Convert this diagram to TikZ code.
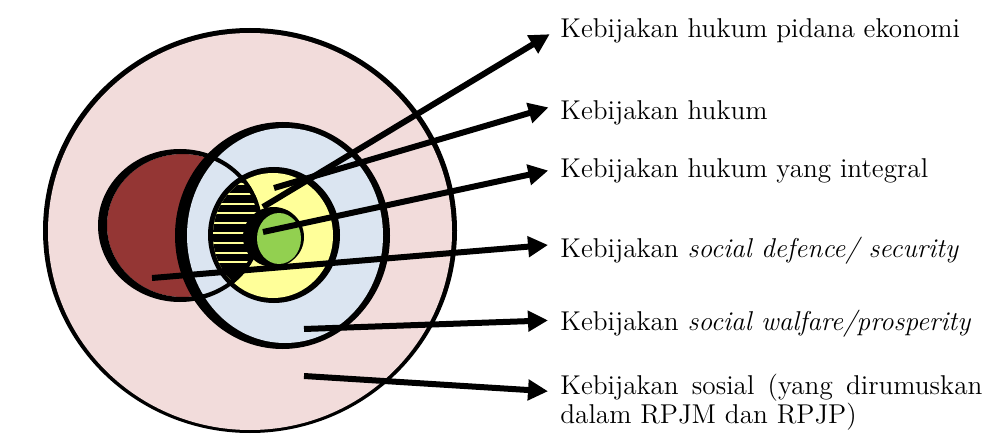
\documentclass[tikz,border=0pt]{standalone}
\usepackage{xcolor}
\usetikzlibrary{arrows.meta}
\definecolor{pinkfill}{HTML}{F2DCDB}
\definecolor{redfill}{HTML}{943634}
\definecolor{bluefill}{HTML}{DBE5F1}
\definecolor{yellowfill}{HTML}{FFFF99}
\definecolor{greenfill}{HTML}{92D050}

\begin{document}
\begin{tikzpicture}[x=0.5pt,y=-0.5pt,
                    bar/.style={-{Triangle[length=10pt,width=10pt]},line width=3pt,
                                shorten >=6pt},
                    lbl/.style={anchor=west,inner sep=0pt,text depth=0pt,
                                font=\fontsize{13.6}{14.5}\selectfont}]
  \useasboundingbox (0,0) rectangle (991,444);

  \fill[black]      (250,230.5) ellipse [x radius=207,y radius=202.5];
  \fill[pinkfill]   (250,231.5) ellipse [x radius=202,y radius=198.5];

  \fill[redfill]    (182.5,225.5) ellipse [x radius=75.5,y radius=71.5];

  \fill[black]      (282.5,235.5) ellipse [x radius=107.5,y radius=113.5];
  \fill[bluefill]   (285,235.5) ellipse [x radius=98,y radius=107.5];

  \fill[black]      (274,235) ellipse [x radius=66,y radius=68];
  \fill[yellowfill] (273,235.5) ellipse [x radius=60,y radius=62.5];

  \begin{scope}
    \clip (273,235.5) ellipse [x radius=60,y radius=62.5];
    \clip (180,225.5) ellipse [x radius=82,y radius=76.5];
    \fill[black] (200,160) rectangle (270,310);
    \foreach \y in {184,193.8,...,272}
      \draw[yellowfill,line width=1pt] (200,\y) -- (270,\y);
  \end{scope}

  \fill[black,even odd rule] (180,225.5) ellipse [x radius=82,y radius=76.5]
                             (182.5,225.5) ellipse [x radius=75.5,y radius=71.5];

  \fill[black]      (273.5,237) ellipse [x radius=30.5,y radius=30];
  \fill[greenfill]  (279,238.5) ellipse [x radius=22,y radius=25.5];

  \coordinate (pidana)   at (263,207);
  \coordinate (hukum)    at (274,188);
  \coordinate (integral) at (263,232);
  \coordinate (defence)  at (152,278);
  \coordinate (welfare)  at (304,329);
  \coordinate (sosial)   at (304,376);

  \node[lbl] (Tpidana)   at (560,28)  {Kebijakan hukum pidana ekonomi};
  \node[lbl] (Thukum)    at (560,110) {Kebijakan hukum};
  \node[lbl] (Tintegral) at (560,168) {Kebijakan hukum yang integral};
  \node[lbl] (Tdefence)  at (560,247) {Kebijakan \textit{social defence/ security}};
  \node[lbl] (Twelfare)  at (560,320) {Kebijakan \textit{social walfare/prosperity}};
  \node[lbl,anchor=north west,text width=211pt,align=justify] (Tsosial) at (560,374)
       {Kebijakan sosial (yang dirumuskan\linebreak dalam RPJM dan RPJP)};

  \draw[bar] (pidana)   -- (Tpidana.west);
  \draw[bar] (hukum)    -- ([yshift=3pt]Thukum.west);
  \draw[bar] (integral) -- (Tintegral.west);
  \draw[bar] (defence)  -- ([yshift=1.5pt]Tdefence.west);
  \draw[bar] (welfare)  -- (Twelfare.west);
  \draw[bar] (sosial)   -- ([yshift=-9pt]Tsosial.north west);
\end{tikzpicture}
\end{document}
